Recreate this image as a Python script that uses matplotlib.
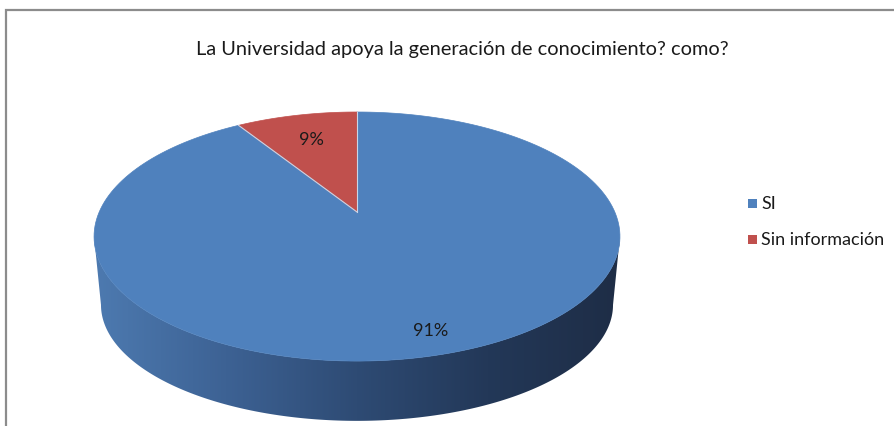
import numpy as np
import matplotlib
matplotlib.use("Agg")
import matplotlib.pyplot as plt
from matplotlib.patches import Polygon, Rectangle
from matplotlib.colors import LinearSegmentedColormap

# ---- data ----
title = "La Universidad apoya la generación de conocimiento? como?"
categories = ["SI", "Sin información"]
values = [91, 9]
colors = ["#4F81BD", "#C0504D"]

# ---- figure in pixel coordinates ----
W, H = 894, 427
fig = plt.figure(figsize=(W / 100, H / 100), dpi=100)
ax = fig.add_axes([0, 0, 1, 1])
ax.set_xlim(0, W)
ax.set_ylim(H, 0)
ax.axis("off")

FONT = ["Lato", "DejaVu Sans"]

# projective mapping of the unit disk (u right, v toward viewer) onto the page
CX, CY = 357.0, 213.0
A, B, K = 257.8, 119.7, 0.197          # top face
A2, B2, CY2 = 251.0, 111.5, 283.0      # bottom rim


def top(u, v):
    d = 1 - K * v
    return CX + A * u / d, CY + B * v / d


def bottom(u, v):
    d = 1 - K * v
    return CX + A2 * u / d, CY2 + B2 * v / d


def circ(phi):
    # phi measured clockwise from 12 o'clock, degrees
    r = np.radians(phi)
    return np.sin(r), -np.cos(r)


# ---- side wall (front half, horizontal shading) ----
phis = np.linspace(90 + np.degrees(np.arcsin(K)), 270 - np.degrees(np.arcsin(K)), 200)
u, v = circ(phis)
tx, ty = top(u, v)
bx, by = bottom(u, v)
side_pts = np.column_stack([np.concatenate([tx, bx[::-1]]), np.concatenate([ty, by[::-1]])])
side = Polygon(side_pts, closed=True, facecolor="none", edgecolor="none")
ax.add_patch(side)
cmap = LinearSegmentedColormap.from_list(
    "wall", ["#4D7AB0", "#3D6294", "#2E4B74", "#233858", "#1E2D46"])
grad = np.linspace(0, 1, 256).reshape(1, -1)
im = ax.imshow(grad, cmap=cmap, extent=(side_pts[:, 0].min(), side_pts[:, 0].max(),
                                        side_pts[:, 1].max(), side_pts[:, 1].min()),
               aspect="auto", zorder=1, interpolation="bilinear")
im.set_clip_path(side)

# ---- top face slices ----
total = float(sum(values))
start = 0.0
label_radius = [0.86, 0.72]
for val, col, lr in zip(values, colors, label_radius):
    span = 360.0 * val / total
    ph = np.linspace(start, start + span, 200)
    uu, vv = circ(ph)
    px, py = top(uu, vv)
    pts = np.column_stack([np.concatenate([[CX], px]), np.concatenate([[CY], py])])
    ax.add_patch(Polygon(pts, closed=True, facecolor=col, edgecolor=col,
                         linewidth=0.5, zorder=2))
    # light separator along the slice's starting radius
    ex, ey = top(*circ(start))
    ax.plot([CX, ex], [CY, ey], color="#C9D6E8", linewidth=0.8, zorder=3)
    mu, mv = circ(start + span / 2)
    lx, ly = top(mu * lr, mv * lr)
    ax.text(lx, ly, f"{val}%", ha="center", va="center", fontsize=13,
            family=FONT, color="#1A1A1A", zorder=4)
    start += span

# ---- title ----
ax.text(462, 50, title, ha="center", va="center", fontsize=14.4,
        family=FONT, color="#1A1A1A")

# ---- legend ----
leg_y = [204, 240]
for name, col, y in zip(categories, colors, leg_y):
    ax.add_patch(Rectangle((748, y - 4.5), 9, 9, facecolor=col, edgecolor="none"))
    ax.text(761, y, name, ha="left", va="center", fontsize=13,
            family=FONT, color="#1A1A1A")

# ---- chart frame ----
ax.plot([5.5, 5.5, W + 2], [H + 2, 10.5, 10.5], color="#8C8C8C", linewidth=1.6,
        solid_capstyle="butt", solid_joinstyle="miter")

fig.savefig("out.png", dpi=100)
